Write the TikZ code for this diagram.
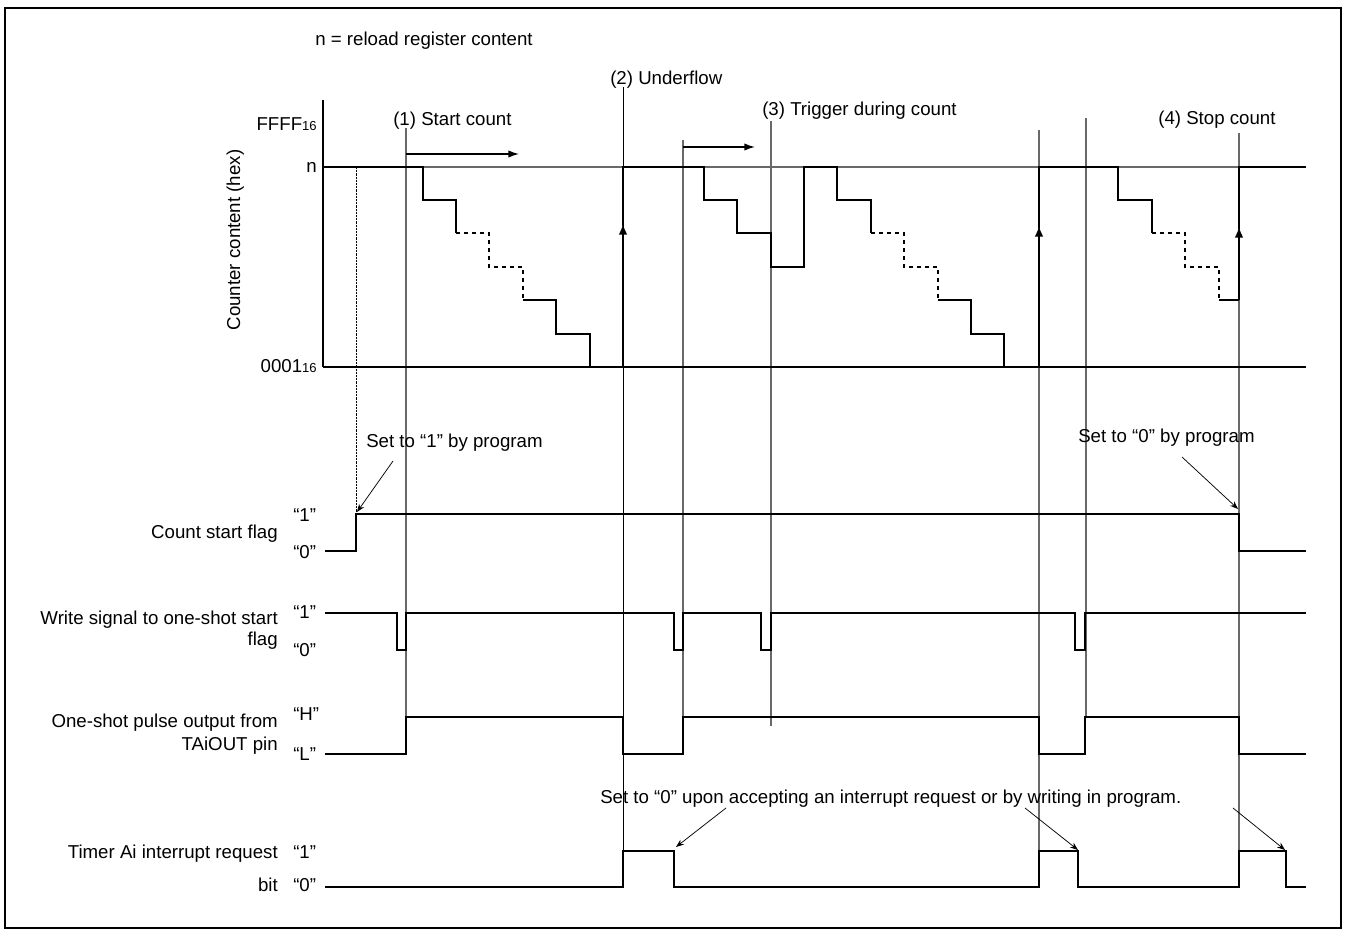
\documentclass[tikz,border=0pt]{standalone}
\usepackage{fontspec}
\setmainfont{Liberation Sans}
\usetikzlibrary{arrows.meta}
\newcommand\subsix{{\fontsize{9.8pt}{10pt}\selectfont 16}}
\tikzset{
  sig/.style={line width=1.15pt, black},
  cnt/.style={line width=1.25pt, black},
  guide/.style={line width=0.85pt, draw={rgb,255:red,105;green,105;blue,105}},
  darkguide/.style={line width=0.6pt, draw=black},
  note/.style={line width=0.55pt, -{Stealth[length=6pt,width=4.5pt]}},
  fwd/.style={line width=1pt, -{Latex[length=8pt,width=5.5pt]}},
  upar/.style={cnt, -{Latex[length=8pt,width=6.5pt]}},
  lbl/.style={inner sep=0pt, font=\fontsize{14pt}{16pt}\selectfont},
}
\begin{document}
\begin{tikzpicture}[x=0.75pt,y=-0.75pt]
\useasboundingbox (0,0) rectangle (1348,934);
\draw[line width=1.5pt] (5,8) rectangle (1341,928);

% guide lines
\draw[guide] (323,167) -- (1306,167);
\draw[guide] (406,128) -- (406,717);
\draw[darkguide] (623,87) -- (623,851);
\draw[guide] (683,140) -- (683,717);
\draw[guide] (771,121) -- (771,726);
\draw[guide] (1039,130) -- (1039,851);
\draw[guide] (1086,118) -- (1086,717);
\draw[guide] (1239,133) -- (1239,851);
\draw[line width=0.6pt, dash pattern=on 1.6pt off 0.8pt] (356,167) -- (356,514);

% axis
\draw[line width=1.2pt] (323,100) -- (323,367);
\draw[line width=1.2pt] (323,367) -- (1306,367);

% counter waveform
\draw[cnt] (323,167) -- (423,167) -- (423,200) -- (456,200) -- (456,233);
\draw[cnt,dashed] (456,233) -- (489,233) -- (489,267) -- (523,267) -- (523,300);
\draw[cnt] (523,300) -- (556,300) -- (556,334) -- (590,334) -- (590,367);
\draw[upar] (623,367) -- (623,224);
\draw[cnt] (623,226) -- (623,167) -- (704,167) -- (704,200) -- (737,200) -- (737,233) -- (771,233) -- (771,267) -- (804,267) -- (804,167) -- (837,167) -- (837,200) -- (871,200) -- (871,233);
\draw[cnt,dashed] (871,233) -- (904,233) -- (904,267) -- (938,267) -- (938,300);
\draw[cnt] (938,300) -- (971,300) -- (971,334) -- (1004,334) -- (1004,367);
\draw[upar] (1039,367) -- (1039,226);
\draw[cnt] (1039,228) -- (1039,167) -- (1118,167) -- (1118,200) -- (1152,200) -- (1152,233);
\draw[cnt,dashed] (1152,233) -- (1185,233) -- (1185,267) -- (1219,267) -- (1219,300);
\draw[cnt] (1219,300) -- (1239,300);
\draw[upar] (1239,300) -- (1239,227);
\draw[cnt] (1239,229) -- (1239,167) -- (1306,167);

% direction arrows
\draw[fwd] (406,154) -- (519,154);
\draw[fwd] (683,147) -- (755,147);

% signals
\draw[sig] (325,551) -- (356,551) -- (356,514) -- (1239,514) -- (1239,551) -- (1306,551);
\draw[sig] (325,613) -- (397,613) -- (397,650) -- (406,650) -- (406,613) -- (674,613) -- (674,650) -- (683,650) -- (683,613) -- (761,613) -- (761,650) -- (771,650) -- (771,613) -- (1075,613) -- (1075,650) -- (1085,650) -- (1085,613) -- (1306,613);
\draw[sig] (325,754) -- (406,754) -- (406,717) -- (623,717) -- (623,754) -- (683,754) -- (683,717) -- (1039,717) -- (1039,754) -- (1085,754) -- (1085,717) -- (1239,717) -- (1239,754) -- (1306,754);
\draw[sig] (325,887) -- (623,887) -- (623,851) -- (674,851) -- (674,887) -- (1039,887) -- (1039,851) -- (1078,851) -- (1078,887) -- (1239,887) -- (1239,851) -- (1286,851) -- (1286,887) -- (1306,887);

% texts
\node[lbl, anchor=base west] (nre) at (315,46) {n = reload register content};
\node[lbl, anchor=base west] (t2) at (610,85) {(2) Underflow};
\node[lbl, anchor=base west] (t1) at (393,126) {(1) Start count};
\node[lbl, anchor=base west] (t3) at (762,116) {(3) Trigger during count};
\node[lbl, anchor=base west] (t4) at (1158,125) {(4) Stop count};
\node[lbl, anchor=base east] (ffff) at (317,131) {FFFF\subsix};
\node[lbl, anchor=base east] (nlab) at (317,173) {n};
\node[lbl, anchor=base east] (zero) at (317,372) {0001\subsix};
\node[lbl, anchor=base, rotate=90] (ylab) at (240,240) {Counter content (hex)};

\node[lbl, anchor=base west] (set1) at (366,447) {Set to “1” by program};
\node[lbl, anchor=base west] (set0) at (1078,442) {Set to “0” by program};
\node[lbl, anchor=base west] (setint) at (600,803) {Set to “0” upon accepting an interrupt request or by writing in program.};

\node[lbl, anchor=base east] (csf) at (278,538) {Count start flag};
\node[lbl, anchor=base west] (csf1) at (293,521) {“1”};
\node[lbl, anchor=base west] (csf0) at (293,558) {“0”};

\node[lbl, anchor=base east] (ws1) at (278,624) {Write signal to one-shot start};
\node[lbl, anchor=base east] (ws2) at (278,645) {flag};
\node[lbl, anchor=base west] (ws1q) at (293,618) {“1”};
\node[lbl, anchor=base west] (ws0q) at (293,656) {“0”};

\node[lbl, anchor=base east] (op1) at (278,727) {One-shot pulse output from};
\node[lbl, anchor=base east] (op2) at (278,750) {TAiOUT pin};
\node[lbl, anchor=base west] (opH) at (293,720) {“H”};
\node[lbl, anchor=base west] (opL) at (293,760) {“L”};

\node[lbl, anchor=base east] (ti1) at (278,858) {Timer Ai interrupt request};
\node[lbl, anchor=base east] (ti2) at (278,891) {bit};
\node[lbl, anchor=base west] (ti1q) at (293,858) {“1”};
\node[lbl, anchor=base west] (ti0q) at (293,891) {“0”};

% notes arrows
\coordinate (a1s) at (393,461); \coordinate (a1e) at (357,512);
\coordinate (a2s) at (1182,457); \coordinate (a2e) at (1238,509);
\coordinate (a3s) at (726,808); \coordinate (a3e) at (676,847);
\coordinate (a4s) at (1025,808); \coordinate (a4e) at (1078,850);
\coordinate (a5s) at (1233,808); \coordinate (a5e) at (1285,850);
\draw[note] (a1s) -- (a1e);
\draw[note] (a2s) -- (a2e);
\draw[note] (a3s) -- (a3e);
\draw[note] (a4s) -- (a4e);
\draw[note] (a5s) -- (a5e);
\end{tikzpicture}
\end{document}
